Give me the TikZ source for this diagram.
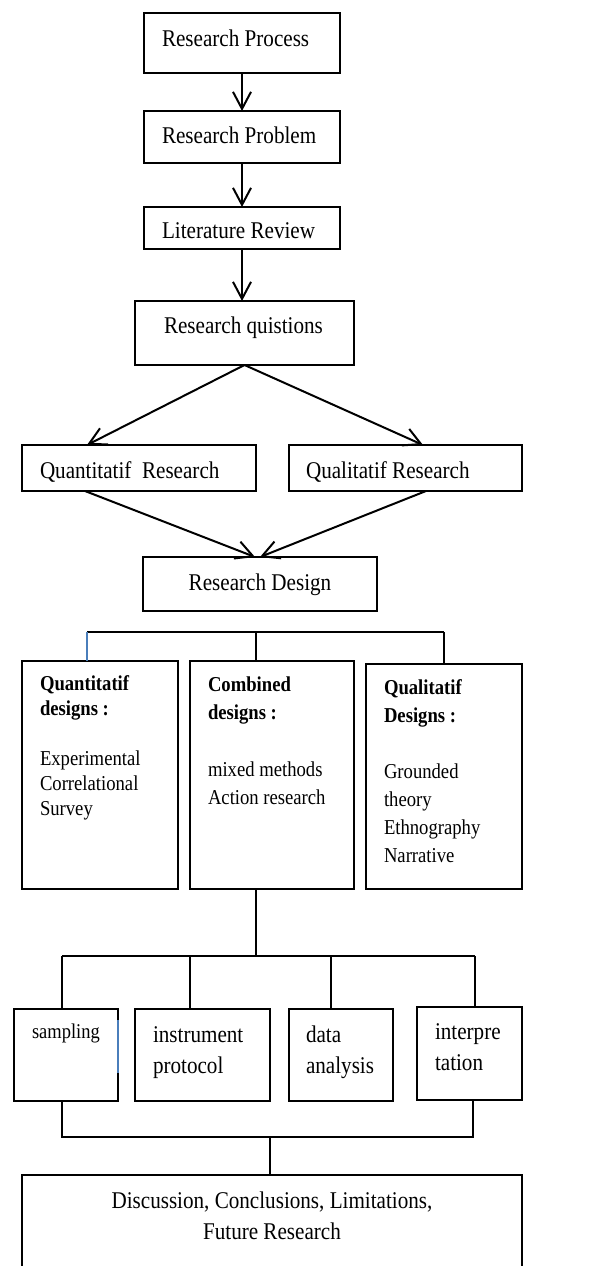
\documentclass[tikz,border=0pt]{standalone}
\usepackage{fontspec}
\setmainfont{Liberation Serif}[FakeStretch=0.88]
\usetikzlibrary{arrows.meta}
\definecolor{linkblue}{HTML}{4A7EBB}
\hyphenpenalty=10000
\begin{document}
\begin{tikzpicture}[x=1pt,y=-1pt,
    box/.style={draw, line width=1.2pt, outer sep=0pt, inner ysep=0pt, inner xsep=18pt,
      anchor=north west, align=flush left, font=\fontsize{24}{31}\selectfont},
    design/.style={box, font=\fontsize{21.2}{28}\selectfont},
    flow/.style={-{Straight Barb[length=17pt,width=18pt]}, line width=2pt},
    link/.style={line width=1.7pt}]
  \useasboundingbox (0,0) rectangle (593,1266);
  % main steps
  \node[box, text width=160pt, text height=33pt, text depth=27pt] (proc) at (144,13) {Research Process};
  \node[box, text width=160pt, text height=32pt, text depth=20pt] (prob) at (144,111) {Research Problem};
  \node[box, text width=160pt, text height=31pt, text depth=11pt] (lit) at (144,207) {Literature Review};
  \node[box, inner xsep=29pt, text width=161pt, text height=32pt, text depth=32pt] (quest) at (135,301) {Research~quistions};
  % two kinds of research
  \node[box, text width=198pt, text height=33pt, text depth=13pt] (qnr) at (22,445) {Quantitatif\ \ Research};
  \node[box, inner xsep=17pt, text width=199pt, text height=33pt, text depth=13pt] (qlr) at (289,445) {Qualitatif Research};
  \node[box, align=flush center, text width=198pt, text height=33pt, text depth=21pt] (design) at (143,557) {Research Design};
  % designs
  \node[design, font=\fontsize{21.2}{25}\selectfont, text width=120pt, text height=29pt, text depth=199pt] (qnd) at (22,661)
    {\textbf{Quantitatif}\\\textbf{designs :}\\[25pt]Experimental\\Correlational\\Survey};
  \node[design, text width=128pt, text height=30pt, text depth=198pt] (cmb) at (190,661)
    {\textbf{Combined}\\\textbf{designs :}\\[29pt]mixed methods\\Action research};
  \node[design, text width=120pt, text height=30pt, text depth=195pt] (qld) at (366,664)
    {\textbf{Qualitatif}\\\textbf{Designs :}\\[28pt]Grounded\\theory\\Ethnography\\Narrative};
  % steps of the study
  \node[box, font=\fontsize{21}{28}\selectfont, text width=68pt, text height=29pt, text depth=63pt] (smp) at (14,1009) {sampling};
  \node[box, text width=99pt, text height=33pt, text depth=59pt] (ins) at (135,1009) {instrument\\protocol};
  \node[box, inner xsep=17pt, text width=70pt, text height=33pt, text depth=59pt] (dat) at (289,1009) {data\\analysis};
  \node[box, text width=69pt, text height=32pt, text depth=61pt] (itp) at (417,1007) {interpre\\tation};
  \node[box, align=flush center, text width=464pt, text height=33pt, text depth=82pt] (disc) at (22,1175)
    {Discussion, Conclusions, Limitations,\\Future Research};
  % arrows
  \draw[flow] (proc) -- (prob);
  \draw[flow] (prob) -- (lit);
  \draw[flow] (lit.south) -- (lit.south |- quest.north);
  \draw[flow] (quest.south) -- ([xshift=65pt]qnr.north west);
  \draw[flow] (quest.south) -- ([xshift=134pt]qlr.north west);
  \draw[flow] ([xshift=63pt]qnr.south west) -- ([xshift=-5pt]design.north);
  \draw[flow] ([xshift=137pt]qlr.south west) -- (design.north);
  % upper bus
  \coordinate (ja) at (87,632);
  \coordinate (jb) at (256,632);
  \coordinate (jc) at (444,632);
  \draw[link] (ja) -- (jc);
  \draw[link, draw=linkblue] (ja) -- (ja |- qnd.north);
  \draw[link] (jb) -- (jb |- cmb.north);
  \draw[link] (jc) -- (jc |- qld.north);
  % middle bus
  \coordinate (jd) at (256,956);
  \coordinate (je) at (62,956);
  \coordinate (jf) at (190,956);
  \coordinate (jg) at (331,956);
  \coordinate (jh) at (475,956);
  \draw[link] (jd |- cmb.south) -- (jd);
  \draw[link] (je) -- (jh);
  \draw[link] (je) -- (je |- smp.north);
  \draw[link] (jf) -- (jf |- ins.north);
  \draw[link] (jg) -- (jg |- dat.north);
  \draw[link] (jh) -- (jh |- itp.north);
  \draw[line width=1.2pt, linkblue] ([yshift=-11pt]smp.north east) -- ([yshift=28pt]smp.south east);
  % lower bus
  \coordinate (ji) at (62,1137);
  \coordinate (jj) at (473,1137);
  \coordinate (jk) at (270,1137);
  \draw[link] (ji |- smp.south) -- (ji) -- (jj) -- (jj |- itp.south);
  \draw[link] (jk) -- (jk |- disc.north);
\end{tikzpicture}
\end{document}
